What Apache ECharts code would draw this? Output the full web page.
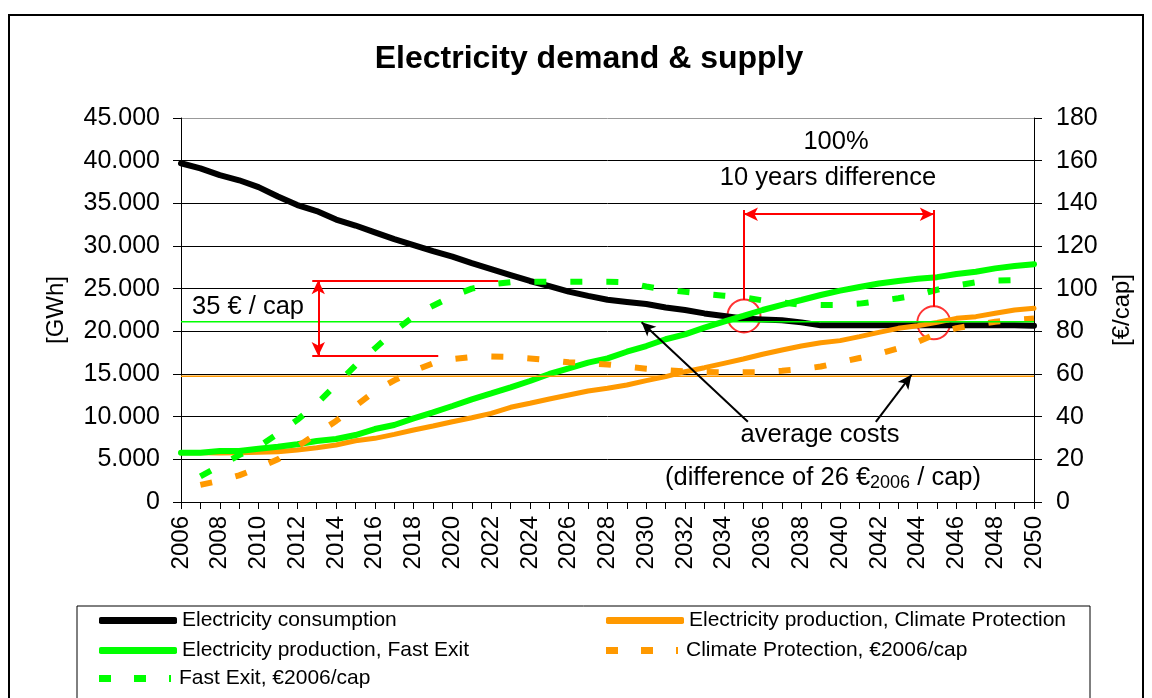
<!DOCTYPE html>
<html>
<head>
<meta charset="utf-8">
<script src="https://cdn.jsdelivr.net/npm/echarts@6/dist/echarts.min.js"></script>
<style>
  html, body { margin: 0; padding: 0; background: #fff; }
  #chart { width: 1152px; height: 698px; }
</style>
</head>
<body>
<div id="chart"></div>
<script>
// years on the x axis
const years = [2006, 2007, 2008, 2009, 2010, 2011, 2012, 2013, 2014, 2015,
  2016, 2017, 2018, 2019, 2020, 2021, 2022, 2023, 2024, 2025,
  2026, 2027, 2028, 2029, 2030, 2031, 2032, 2033, 2034, 2035,
  2036, 2037, 2038, 2039, 2040, 2041, 2042, 2043, 2044, 2045,
  2046, 2047, 2048, 2049, 2050];

// GWh (left axis)
const consumption = [39700, 39100, 38300, 37700, 36900, 35800, 34800, 34100, 33100, 32400,
  31600, 30800, 30100, 29400, 28750, 28000, 27300, 26600, 25900, 25300,
  24650, 24150, 23700, 23450, 23200, 22800, 22500, 22100, 21800, 21500,
  21400, 21300, 21050, 20700, 20700, 20700, 20700, 20700, 20700, 20700,
  20700, 20700, 20700, 20700, 20650];
const productionCP = [5780, 5780, 5750, 5760, 5820, 5880, 6090, 6360, 6680, 7180,
  7460, 7930, 8440, 8910, 9410, 9880, 10390, 11100, 11570, 12070,
  12540, 13010, 13320, 13710, 14220, 14690, 15270, 15740, 16250, 16760,
  17310, 17810, 18280, 18670, 18910, 19380, 19880, 20350, 20660, 21050,
  21520, 21720, 22110, 22500, 22700];
const productionFE = [5780, 5780, 5980, 5980, 6250, 6480, 6760, 7150, 7380, 7850,
  8550, 9020, 9800, 10510, 11250, 12030, 12730, 13440, 14180, 15000,
  15660, 16330, 16830, 17610, 18280, 19070, 19650, 20430, 21130, 21800,
  22500, 23090, 23670, 24260, 24770, 25200, 25600, 25900, 26150, 26350,
  26720, 26990, 27380, 27660, 27860];

// €2006/cap (right axis)
const costCP = [null, 8, 10, 12.5, 16, 20, 26, 32, 38, 45,
  52, 57, 61.5, 65, 67, 68, 68.2, 68, 67.3, 66.5,
  65.5, 65, 64.5, 63.5, 62.5, 61.8, 61.2, 61, 60.8, 60.8,
  60.8, 61.5, 62.3, 63.5, 65.5, 67.5, 69.5, 72, 75, 79,
  81.5, 83, 84.5, 85.3, 86];
const costFE = [null, 12, 17, 22, 26, 32, 38.5, 46, 55, 64,
  72, 80, 87, 92, 96.5, 100, 102, 103, 103.3, 103.3,
  103.3, 103.3, 103.3, 103, 101, 99.5, 98.5, 97.5, 96.7, 96,
  94.5, 93.5, 92.5, 92.3, 92.3, 93, 94.2, 95.5, 97, 99.5,
  101.5, 103, 103.8, 104, 104];

// average costs (right axis)
const avgFE = 84.5;
const avgCP = 59;

// annotation geometry in data units [year, €/cap]
const redLines = [
  [[2012.77, 103.9], [2022.36, 103.9]],
  [[2012.77, 68.4], [2019.27, 68.4]],
  [[2035.04, 136.9], [2035.04, 94.7]],
  [[2044.83, 136.9], [2044.83, 91.5]]
];
const redArrows = [
  [[2013.08, 103.9], [2013.08, 68.4]],
  [[2035.04, 134.9], [2044.83, 134.9]]
];
const blackArrows = [
  [[2035.24, 37.6], [2029.76, 84.3]],
  [[2041.84, 37.6], [2043.68, 59.6]]
];
const circles = [[2035.04, 87.2], [2044.83, 84.0]];

const pair = (vals) => years.map((y, i) => [y, vals[i]]);

const GREEN = '#00FF00';
const ORANGE = '#FF9900';
const FONT = 'Liberation Sans, Arial, sans-serif';
// legend sample for the dashed series: two squares and a sliver
const DASH_ICON = 'path://M0,0h12v7h-12z M35,0h12v7h-12z M70,0h2v7h-2z';

const chart = echarts.init(document.getElementById('chart'));

const markData = [];
redLines.forEach(l => markData.push([
  { coord: l[0], symbol: 'none', lineStyle: { color: '#FF0000', width: 2, type: 'solid' } },
  { coord: l[1], symbol: 'none' }
]));
redArrows.forEach(l => markData.push([
  { coord: l[0], symbol: 'arrow', symbolSize: [10, 14], lineStyle: { color: '#FF0000', width: 2, type: 'solid' } },
  { coord: l[1], symbol: 'arrow', symbolSize: [10, 14] }
]));
blackArrows.forEach(l => markData.push([
  { coord: l[0], symbol: 'none', lineStyle: { color: '#000', width: 2, type: 'solid' } },
  { coord: l[1], symbol: 'arrow', symbolSize: [10, 14] }
]));

const legendBase = {
  orient: 'horizontal',
  padding: 0,
  itemWidth: 78,
  itemHeight: 7,
  selectedMode: false,
  textStyle: { fontSize: 21, color: '#000', fontFamily: FONT }
};
const legendAt = (left, top, name, icon) =>
  Object.assign({}, legendBase, { left: left, top: top, data: [{ name: name, icon: icon }] });

const option = {
  animation: false,
  textStyle: { fontFamily: FONT },
  grid: { left: 181, right: 118, top: 118, bottom: 196 },
  legend: [
    legendAt(99, 610, 'Electricity consumption', 'roundRect'),
    legendAt(606, 610, 'Electricity production, Climate Protection', 'roundRect'),
    legendAt(99, 640, 'Electricity production, Fast Exit', 'roundRect'),
    legendAt(606, 640, 'Climate Protection, €2006/cap', DASH_ICON),
    legendAt(99, 668, 'Fast Exit, €2006/cap', DASH_ICON)
  ],
  xAxis: {
    type: 'value',
    min: 2006,
    max: 2050,
    interval: 1,
    axisLine: { lineStyle: { color: '#000', width: 1 } },
    axisTick: { length: 7, lineStyle: { color: '#000' } },
    axisLabel: {
      rotate: 90,
      fontSize: 24,
      color: '#000',
      margin: 14,
      formatter: v => ((v - 2006) % 2 === 0 ? String(v) : '')
    },
    splitLine: { show: false }
  },
  yAxis: [
    {
      type: 'value',
      min: 0,
      max: 45000,
      interval: 5000,
      name: '[GWh]',
      nameLocation: 'middle',
      nameGap: 113,
      nameRotate: 90,
      nameTextStyle: { fontSize: 24, color: '#000' },
      axisLine: { show: true, lineStyle: { color: '#000' } },
      axisTick: { show: true, length: 8, lineStyle: { color: '#000' } },
      axisLabel: {
        fontSize: 25,
        color: '#000',
        margin: 21,
        formatter: v => (v === 0 ? '0' : (v / 1000) + '.000')
      },
      splitLine: {
        lineStyle: {
          color: ['#000', '#000', '#000', '#000', '#000', '#000', '#000', '#000', '#000', '#999'],
          width: 1
        }
      }
    },
    {
      type: 'value',
      position: 'right',
      min: 0,
      max: 180,
      interval: 20,
      name: '[€/cap]',
      nameLocation: 'middle',
      nameGap: 76,
      nameRotate: 90,
      nameTextStyle: { fontSize: 24, color: '#000' },
      axisLine: { show: true, lineStyle: { color: '#000' } },
      axisTick: { show: true, length: 8, lineStyle: { color: '#000' } },
      axisLabel: { fontSize: 25, color: '#000', margin: 22 },
      splitLine: { show: false }
    }
  ],
  series: [
    {
      name: 'Electricity consumption',
      type: 'line',
      symbol: 'none',
      color: '#000',
      lineStyle: { color: '#000', width: 6, cap: 'round' },
      data: pair(consumption)
    },
    {
      name: 'Electricity production, Climate Protection',
      type: 'line',
      symbol: 'none',
      color: ORANGE,
      lineStyle: { color: ORANGE, width: 5, cap: 'round' },
      data: pair(productionCP)
    },
    {
      name: 'Electricity production, Fast Exit',
      type: 'line',
      symbol: 'none',
      color: GREEN,
      lineStyle: { color: GREEN, width: 6, cap: 'round' },
      data: pair(productionFE)
    },
    {
      name: 'Climate Protection, €2006/cap',
      type: 'line',
      yAxisIndex: 1,
      symbol: 'none',
      color: ORANGE,
      lineStyle: { color: ORANGE, width: 6, type: [12, 24] },
      data: pair(costCP)
    },
    {
      name: 'Fast Exit, €2006/cap',
      type: 'line',
      yAxisIndex: 1,
      symbol: 'none',
      color: GREEN,
      lineStyle: { color: GREEN, width: 6, type: [12, 24] },
      data: pair(costFE)
    },
    {
      name: 'avg FE',
      type: 'line',
      yAxisIndex: 1,
      symbol: 'none',
      silent: true,
      lineStyle: { color: GREEN, width: 1.5 },
      data: [[years[0], avgFE], [years[years.length - 1], avgFE]]
    },
    {
      name: 'avg CP',
      type: 'line',
      yAxisIndex: 1,
      symbol: 'none',
      silent: true,
      lineStyle: { color: ORANGE, width: 1.5 },
      data: [[years[0], avgCP], [years[years.length - 1], avgCP]],
      markLine: {
        silent: true,
        animation: false,
        label: { show: false },
        emphasis: { disabled: true },
        data: markData
      }
    },
    {
      name: 'circles',
      type: 'scatter',
      yAxisIndex: 1,
      silent: true,
      symbol: 'circle',
      symbolSize: 33,
      itemStyle: { color: 'rgba(0,0,0,0)', borderColor: '#FF0000', borderWidth: 2 },
      data: circles
    }
  ],
  graphic: [
    {
      type: 'rect',
      silent: true,
      shape: { x: 9, y: 15, width: 1134, height: 720 },
      style: { fill: 'none', stroke: '#000', lineWidth: 2 }
    },
    {
      type: 'rect',
      silent: true,
      shape: { x: 77, y: 606, width: 1013, height: 120 },
      style: { fill: 'none', stroke: '#000', lineWidth: 1 }
    },
    {
      type: 'text', silent: true, x: 589, y: 59,
      style: { text: 'Electricity demand & supply', fontSize: 32, fontWeight: 'bold', fontFamily: FONT,
        fill: '#000', align: 'center', verticalAlign: 'middle' }
    },
    {
      type: 'text', silent: true, x: 192, y: 307,
      style: { text: '35 € / cap', fontSize: 25.5, fontFamily: FONT, fill: '#000', align: 'left', verticalAlign: 'middle' }
    },
    {
      type: 'text', silent: true, x: 836, y: 142,
      style: { text: '100%', fontSize: 25.5, fontFamily: FONT, fill: '#000', align: 'center', verticalAlign: 'middle' }
    },
    {
      type: 'text', silent: true, x: 828, y: 178,
      style: { text: '10 years difference', fontSize: 25.5, fontFamily: FONT, fill: '#000', align: 'center', verticalAlign: 'middle' }
    },
    {
      type: 'text', silent: true, x: 820, y: 435,
      style: { text: 'average costs', fontSize: 25.5, fontFamily: FONT, fill: '#000', align: 'center', verticalAlign: 'middle' }
    },
    {
      type: 'text', silent: true, x: 823, y: 478,
      style: {
        text: '{a|(difference of 26 €}{s|2006}{a| / cap)}',
        fontFamily: FONT, fill: '#000', align: 'center', verticalAlign: 'middle',
        rich: {
          a: { fontSize: 25.5, fontFamily: FONT, fill: '#000', lineHeight: 30 },
          s: { fontSize: 18, fontFamily: FONT, fill: '#000', lineHeight: 30, padding: [10, 0, 0, 0] }
        }
      }
    }
  ]
};

chart.setOption(option);
</script>
</body>
</html>
